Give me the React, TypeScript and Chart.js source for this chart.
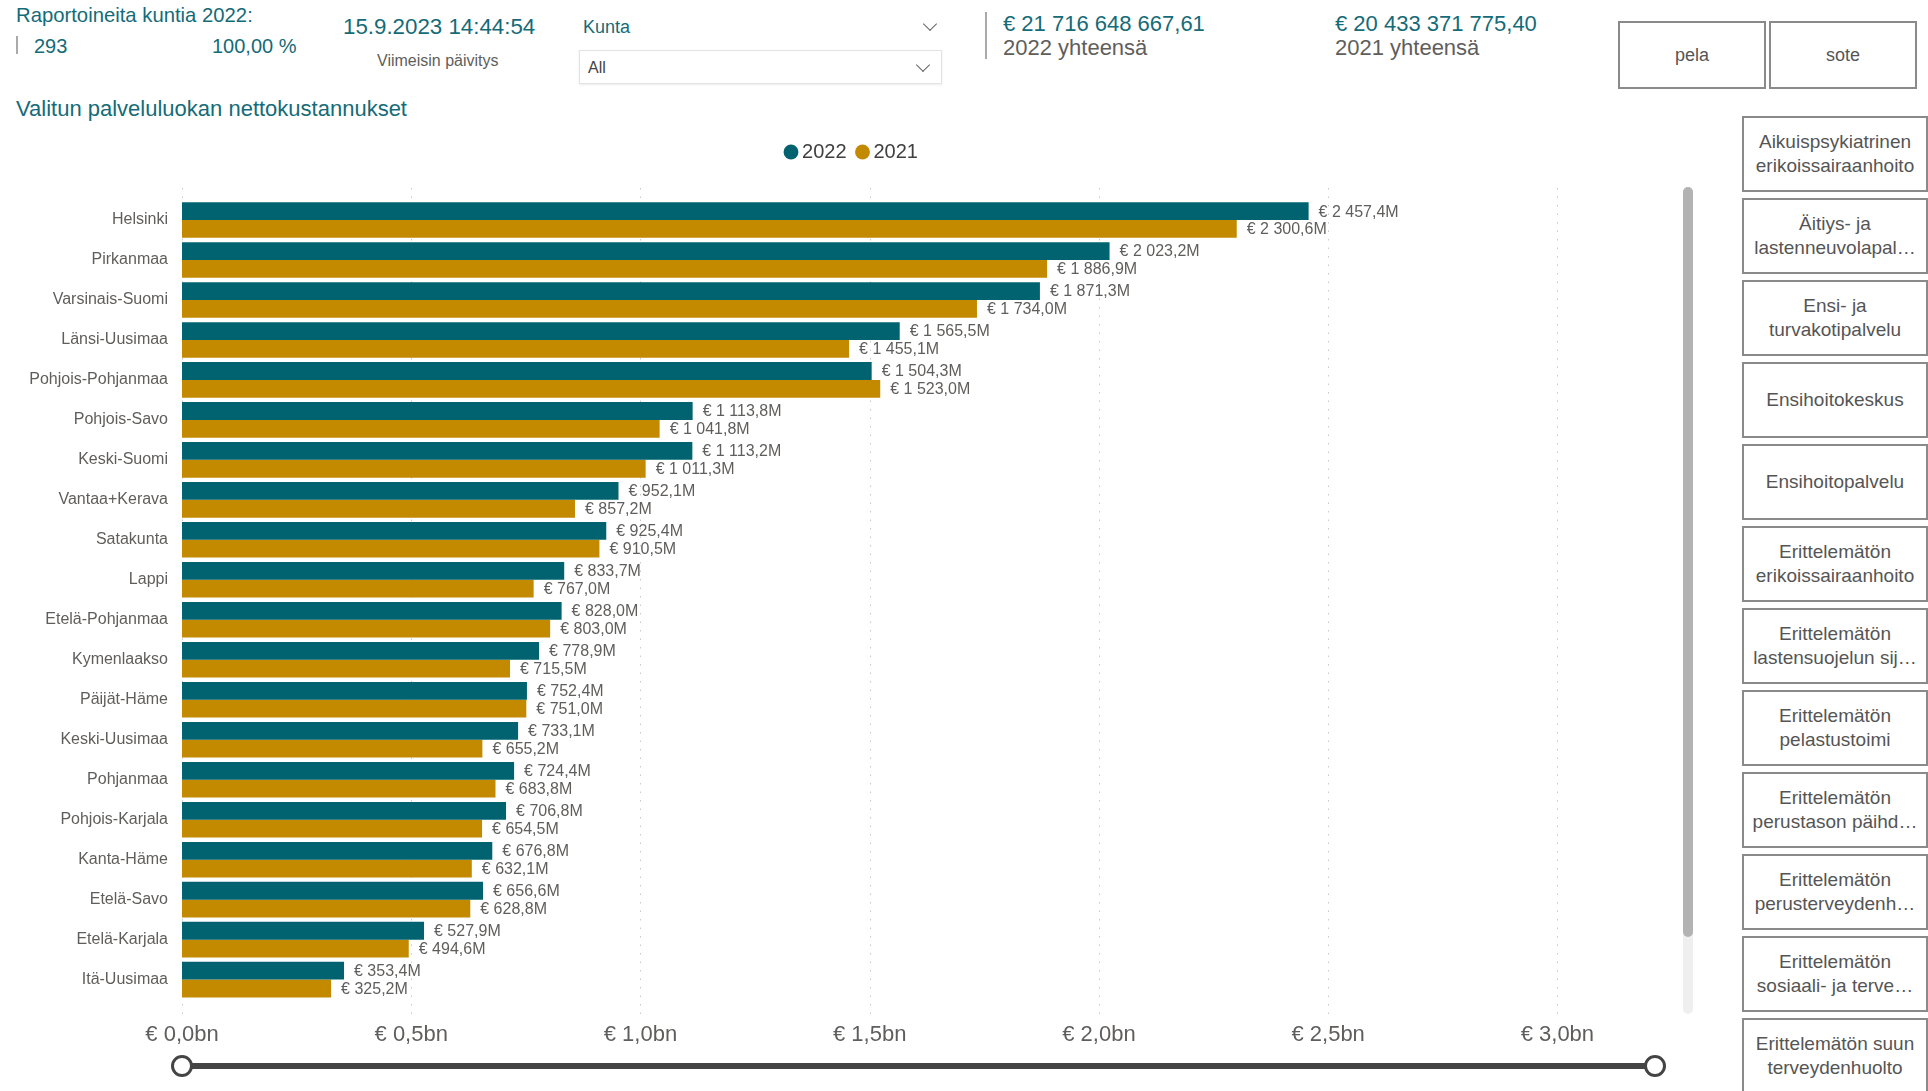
import React, { useEffect, useRef } from "react";
import { Chart, registerables } from "chart.js";

Chart.register(...registerables);

const categories = [
  "Helsinki", "Pirkanmaa", "Varsinais-Suomi", "Länsi-Uusimaa", "Pohjois-Pohjanmaa",
  "Pohjois-Savo", "Keski-Suomi", "Vantaa+Kerava", "Satakunta", "Lappi",
  "Etelä-Pohjanmaa", "Kymenlaakso", "Päijät-Häme", "Keski-Uusimaa", "Pohjanmaa",
  "Pohjois-Karjala", "Kanta-Häme", "Etelä-Savo", "Etelä-Karjala", "Itä-Uusimaa",
];
// values in millions of euros
const values2022 = [
  2457.4, 2023.2, 1871.3, 1565.5, 1504.3, 1113.8, 1113.2, 952.1, 925.4, 833.7,
  828.0, 778.9, 752.4, 733.1, 724.4, 706.8, 676.8, 656.6, 527.9, 353.4,
];
const values2021 = [
  2300.6, 1886.9, 1734.0, 1455.1, 1523.0, 1041.8, 1011.3, 857.2, 910.5, 767.0,
  803.0, 715.5, 751.0, 655.2, 683.8, 654.5, 632.1, 628.8, 494.6, 325.2,
];
const seriesLabels = ["2022", "2021"];
const xTicks = [0, 500, 1000, 1500, 2000, 2500, 3000];
const xMax = 3250;

const sideButtons = [
  ["Aikuispsykiatrinen", "erikoissairaanhoito"],
  ["Äitiys- ja", "lastenneuvolapal…"],
  ["Ensi- ja", "turvakotipalvelu"],
  ["Ensihoitokeskus"],
  ["Ensihoitopalvelu"],
  ["Erittelemätön", "erikoissairaanhoito"],
  ["Erittelemätön", "lastensuojelun sij…"],
  ["Erittelemätön", "pelastustoimi"],
  ["Erittelemätön", "perustason päihd…"],
  ["Erittelemätön", "perusterveydenh…"],
  ["Erittelemätön", "sosiaali- ja terve…"],
  ["Erittelemätön suun", "terveydenhuolto"],
];

const TEAL = "#00636f";
const GOLD = "#c38a00";
const TEXT_TEAL = "#156b78";
const GRAY = "#605e5c";
const FONT = "'Liberation Sans', Arial, sans-serif";

function fmtM(v: number): string {
  const [i, d] = v.toFixed(1).split(".");
  const grouped = i.replace(/\B(?=(\d{3})+(?!\d))/g, " ");
  return `€ ${grouped},${d}M`;
}
function fmtBn(v: number): string {
  return `€ ${(v / 1000).toFixed(1).replace(".", ",")}bn`;
}

const dottedGrid = {
  id: "dottedGrid",
  beforeDatasetsDraw(chart: any) {
    const { ctx, chartArea } = chart;
    const xs = chart.scales.x;
    ctx.save();
    ctx.strokeStyle = "#c8c8c8";
    ctx.lineWidth = 1;
    ctx.setLineDash([1.5, 7]);
    for (const v of xTicks) {
      const x = Math.round(xs.getPixelForValue(v)) + 0.5;
      ctx.beginPath();
      ctx.moveTo(x, chartArea.top - 12);
      ctx.lineTo(x, chartArea.bottom + 15);
      ctx.stroke();
    }
    ctx.restore();
  },
};

const valueLabels = {
  id: "valueLabels",
  afterDatasetsDraw(chart: any) {
    const { ctx } = chart;
    ctx.save();
    ctx.font = `16px ${FONT}`;
    ctx.fillStyle = GRAY;
    ctx.textAlign = "left";
    ctx.textBaseline = "middle";
    chart.data.datasets.forEach((ds: any, di: number) => {
      const meta = chart.getDatasetMeta(di);
      meta.data.forEach((el: any, i: number) => {
        ctx.fillText(fmtM(ds.data[i]), el.x + 10, el.y + 1);
      });
    });
    ctx.restore();
  },
};

const legendSpacing = {
  id: "legendSpacing",
  beforeInit(chart: any) {
    const orig = chart.legend.fit;
    chart.legend.fit = function () {
      orig.bind(chart.legend)();
      this.height += 28;
    };
  },
  afterLayout(chart: any) {
    chart.legend.left += 18;
    chart.legend.right += 18;
  },
};

function BarChart() {
  const ref = useRef<HTMLCanvasElement | null>(null);
  useEffect(() => {
    if (!ref.current) return;
    const chart = new Chart(ref.current, {
      type: "bar",
      data: {
        labels: categories,
        datasets: [
          { label: seriesLabels[0], data: values2022, backgroundColor: TEAL, barPercentage: 1, categoryPercentage: 0.89 },
          { label: seriesLabels[1], data: values2021, backgroundColor: GOLD, barPercentage: 1, categoryPercentage: 0.89 },
        ],
      },
      options: {
        indexAxis: "y",
        animation: false,
        responsive: false,
        maintainAspectRatio: false,
        layout: { padding: 0 },
        plugins: {
          tooltip: { enabled: false },
          legend: {
            display: true,
            position: "top",
            labels: {
              usePointStyle: true,
              pointStyle: "circle",
              boxWidth: 2,
              boxHeight: 10.5,
              padding: 15,
              color: "#404040",
              font: { family: FONT, size: 20 },
            },
          },
        },
        scales: {
          x: {
            type: "linear",
            min: 0,
            max: xMax,
            afterBuildTicks: (s: any) => {
              s.ticks = xTicks.map((v) => ({ value: v }));
            },
            grid: { display: false, drawTicks: false },
            border: { display: false },
            ticks: {
              padding: 22,
              color: GRAY,
              font: { family: FONT, size: 22 },
              callback: (v: any) => fmtBn(Number(v)),
              maxRotation: 0,
            },
          },
          y: {
            type: "category",
            afterFit: (s: any) => {
              s.width = 182;
            },
            grid: { display: false, drawTicks: false },
            border: { display: false },
            ticks: {
              padding: 14,
              color: GRAY,
              font: { family: FONT, size: 16 },
              autoSkip: false,
            },
          },
        },
      },
      plugins: [dottedGrid, valueLabels, legendSpacing],
    });
    return () => chart.destroy();
  }, []);
  return (
    <canvas
      ref={ref}
      width={1672}
      height={943}
      style={{ position: "absolute", left: 0, top: 127, width: 1672, height: 943, display: "block" }}
    />
  );
}

function T(props: { x: number; y: number; size: number; color: string; children: any }) {
  return (
    <div
      style={{
        position: "absolute",
        left: props.x,
        top: props.y,
        fontSize: props.size,
        lineHeight: 1,
        color: props.color,
        fontFamily: FONT,
        whiteSpace: "nowrap",
      }}
    >
      {props.children}
    </div>
  );
}

function Chevron({ x, y }: { x: number; y: number }) {
  return (
    <div
      style={{
        position: "absolute",
        left: x - 5,
        top: y - 8,
        width: 9,
        height: 9,
        borderRight: "1.5px solid #666",
        borderBottom: "1.5px solid #666",
        transform: "rotate(45deg)",
      }}
    />
  );
}

export default function App() {
  return (
    <div
      style={{
        position: "absolute",
        left: 0,
        top: 0,
        width: 1928,
        height: 1091,
        overflow: "hidden",
        background: "#fff",
        fontFamily: FONT,
      }}
    >
      {/* header */}
      <T x={16} y={5} size={20.3} color={TEXT_TEAL}>Raportoineita kuntia 2022:</T>
      <div style={{ position: "absolute", left: 16, top: 36, width: 2, height: 18, background: "#aaa" }} />
      <T x={34} y={36} size={20} color={TEXT_TEAL}>293</T>
      <T x={212} y={36} size={20} color={TEXT_TEAL}>100,00 %</T>
      <T x={343} y={16} size={22.3} color={TEXT_TEAL}>15.9.2023 14:44:54</T>
      <T x={377} y={53} size={16} color={GRAY}>Viimeisin päivitys</T>
      <T x={583} y={18} size={18} color={TEXT_TEAL}>Kunta</T>
      <Chevron x={930} y={27} />
      <div
        style={{
          position: "absolute",
          left: 579,
          top: 50,
          width: 361,
          height: 32,
          border: "1px solid #e3e3e3",
          boxShadow: "0 1px 2px rgba(0,0,0,0.08)",
        }}
      />
      <T x={588} y={60} size={16} color="#444">All</T>
      <Chevron x={923} y={68} />
      <div style={{ position: "absolute", left: 985, top: 12, width: 2, height: 47, background: "#aaa" }} />
      <T x={1003} y={13} size={22} color={TEXT_TEAL}>€ 21 716 648 667,61</T>
      <T x={1003} y={37} size={22} color={GRAY}>2022 yhteensä</T>
      <T x={1335} y={13} size={22} color={TEXT_TEAL}>€ 20 433 371 775,40</T>
      <T x={1335} y={37} size={22} color={GRAY}>2021 yhteensä</T>
      {["pela", "sote"].map((b, i) => (
        <div
          key={b}
          style={{
            position: "absolute",
            left: 1618 + i * 151,
            top: 21,
            width: 148,
            height: 68,
            boxSizing: "border-box",
            border: "2px solid #8a8a8a",
            display: "flex",
            alignItems: "center",
            justifyContent: "center",
            fontSize: 18,
            color: "#555",
            fontFamily: FONT,
          }}
        >
          {b}
        </div>
      ))}
      <T x={16} y={98} size={22} color={TEXT_TEAL}>Valitun palveluluokan nettokustannukset</T>

      {/* side buttons */}
      {sideButtons.map((lines, i) => (
        <div
          key={i}
          style={{
            position: "absolute",
            left: 1742,
            top: 116 + i * 82,
            width: 186,
            height: 76,
            boxSizing: "border-box",
            border: "2px solid #8a8a8a",
            display: "flex",
            flexDirection: "column",
            alignItems: "center",
            justifyContent: "center",
            fontSize: 19,
            lineHeight: "24px",
            color: "#555",
            fontFamily: FONT,
            textAlign: "center",
          }}
        >
          {lines.map((l, j) => (
            <div key={j} style={{ whiteSpace: "nowrap" }}>{l}</div>
          ))}
        </div>
      ))}

      {/* scrollbar */}
      <div style={{ position: "absolute", left: 1683, top: 187, width: 10, height: 827, background: "#efefef", borderRadius: 5 }} />
      <div style={{ position: "absolute", left: 1683, top: 187, width: 10, height: 750, background: "#b3b3b3", borderRadius: 5 }} />

      <BarChart />

      {/* range slider */}
      <div style={{ position: "absolute", left: 182, top: 1063, width: 1473, height: 6, background: "#444" }} />
      {[182, 1655].map((cx) => (
        <div
          key={cx}
          style={{
            position: "absolute",
            left: cx - 11,
            top: 1055,
            width: 22,
            height: 22,
            boxSizing: "border-box",
            borderRadius: "50%",
            border: "3px solid #444",
            background: "#fff",
          }}
        />
      ))}
    </div>
  );
}
